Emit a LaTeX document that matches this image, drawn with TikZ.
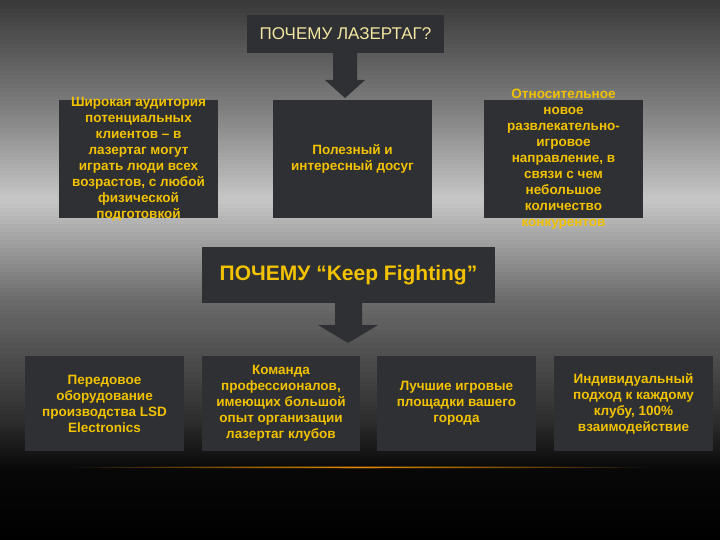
\documentclass[tikz,border=0pt]{standalone}
\usepackage{fontspec}
\setmainfont{Liberation Sans}
\definecolor{boxc}{HTML}{2E3034}
\definecolor{txt}{HTML}{F2C200}
\definecolor{ttl}{HTML}{F4E6A0}
\begin{document}
\begin{tikzpicture}[x=1pt,y=-1pt,
  box/.style={fill=boxc,draw=none,inner sep=0},
  t/.style={text=txt,font=\bfseries\fontsize{13.5}{16}\selectfont,align=center},
  arr/.style={fill=boxc,draw=none}]
\useasboundingbox (0,0) rectangle (720,540);
\fill[black] (0,0) rectangle (720,540);
\foreach \ya/\ka/\yb/\kb in {0/78/110/50, 110/50/200/22, 200/22/300/58, 300/58/420/82, 420/82/470/97, 470/97/540/100}{
  \foreach \s in {0,...,24}{
    \pgfmathsetmacro\yy{\ya+(\yb-\ya)*\s/25}
    \pgfmathsetmacro\yz{\ya+(\yb-\ya)*(\s+1)/25+0.5}
    \pgfmathsetmacro\kk{\ka+(\kb-\ka)*(\s+0.5)/25}
    \fill[black!\kk!white] (0,\yy) rectangle (720,\yz);
  }
}
\shade[inner color=orange!80!yellow,outer color=black!95,opacity=0.9] (360,467) ellipse (300 and 1.5);
% top
\node[box,minimum width=197,minimum height=38] (t1) at (345.5,34) {};
\node[text=ttl,font=\fontsize{17}{19}\selectfont] at (t1) {ПОЧЕМУ ЛАЗЕРТАГ?};
\fill[arr] (333,53) -- (357,53) -- (357,80) -- (365,80) -- (345,98) -- (325,80) -- (333,80) -- cycle;
\node[box,minimum width=159,minimum height=118] (a) at (138.5,159) {};
\node[box,minimum width=159,minimum height=118] (b) at (352.5,159) {};
\node[box,minimum width=159,minimum height=118] (c) at (563.5,159) {};
\node[t] at (a) {Широкая аудитория\\потенциальных\\клиентов – в\\лазертаг могут\\играть люди всех\\возрастов, с любой\\физической\\подготовкой};
\node[t] at (b) {Полезный и\\интересный досуг};
\node[t] at (c) {Относительное\\новое\\развлекательно-\\игровое\\направление, в\\связи с чем\\небольшое\\количество\\конкурентов};
% second
\node[box,minimum width=293,minimum height=56] (t2) at (348.5,275) {};
\node[text=txt,font=\bfseries\fontsize{21}{24}\selectfont] at (t2) {ПОЧЕМУ “Keep Fighting”};
\fill[arr] (335,303) -- (362,303) -- (362,325) -- (378,325) -- (348,343) -- (318,325) -- (335,325) -- cycle;
\node[box,minimum width=159,minimum height=95] (d) at (104.5,403.5) {};
\node[box,minimum width=158,minimum height=95] (e) at (281,403.5) {};
\node[box,minimum width=159,minimum height=95] (f) at (456.5,403.5) {};
\node[box,minimum width=159,minimum height=95] (g) at (633.5,403.5) {};
\node[t] at (d) {Передовое\\оборудование\\производства LSD\\Electronics};
\node[t] at (e) {Команда\\профессионалов,\\имеющих большой\\опыт организации\\лазертаг клубов};
\node[t] at (f) {Лучшие игровые\\площадки вашего\\города};
\node[t] at (g) {Индивидуальный\\подход к каждому\\клубу, 100\%\\взаимодействие};
\end{tikzpicture}
\end{document}
